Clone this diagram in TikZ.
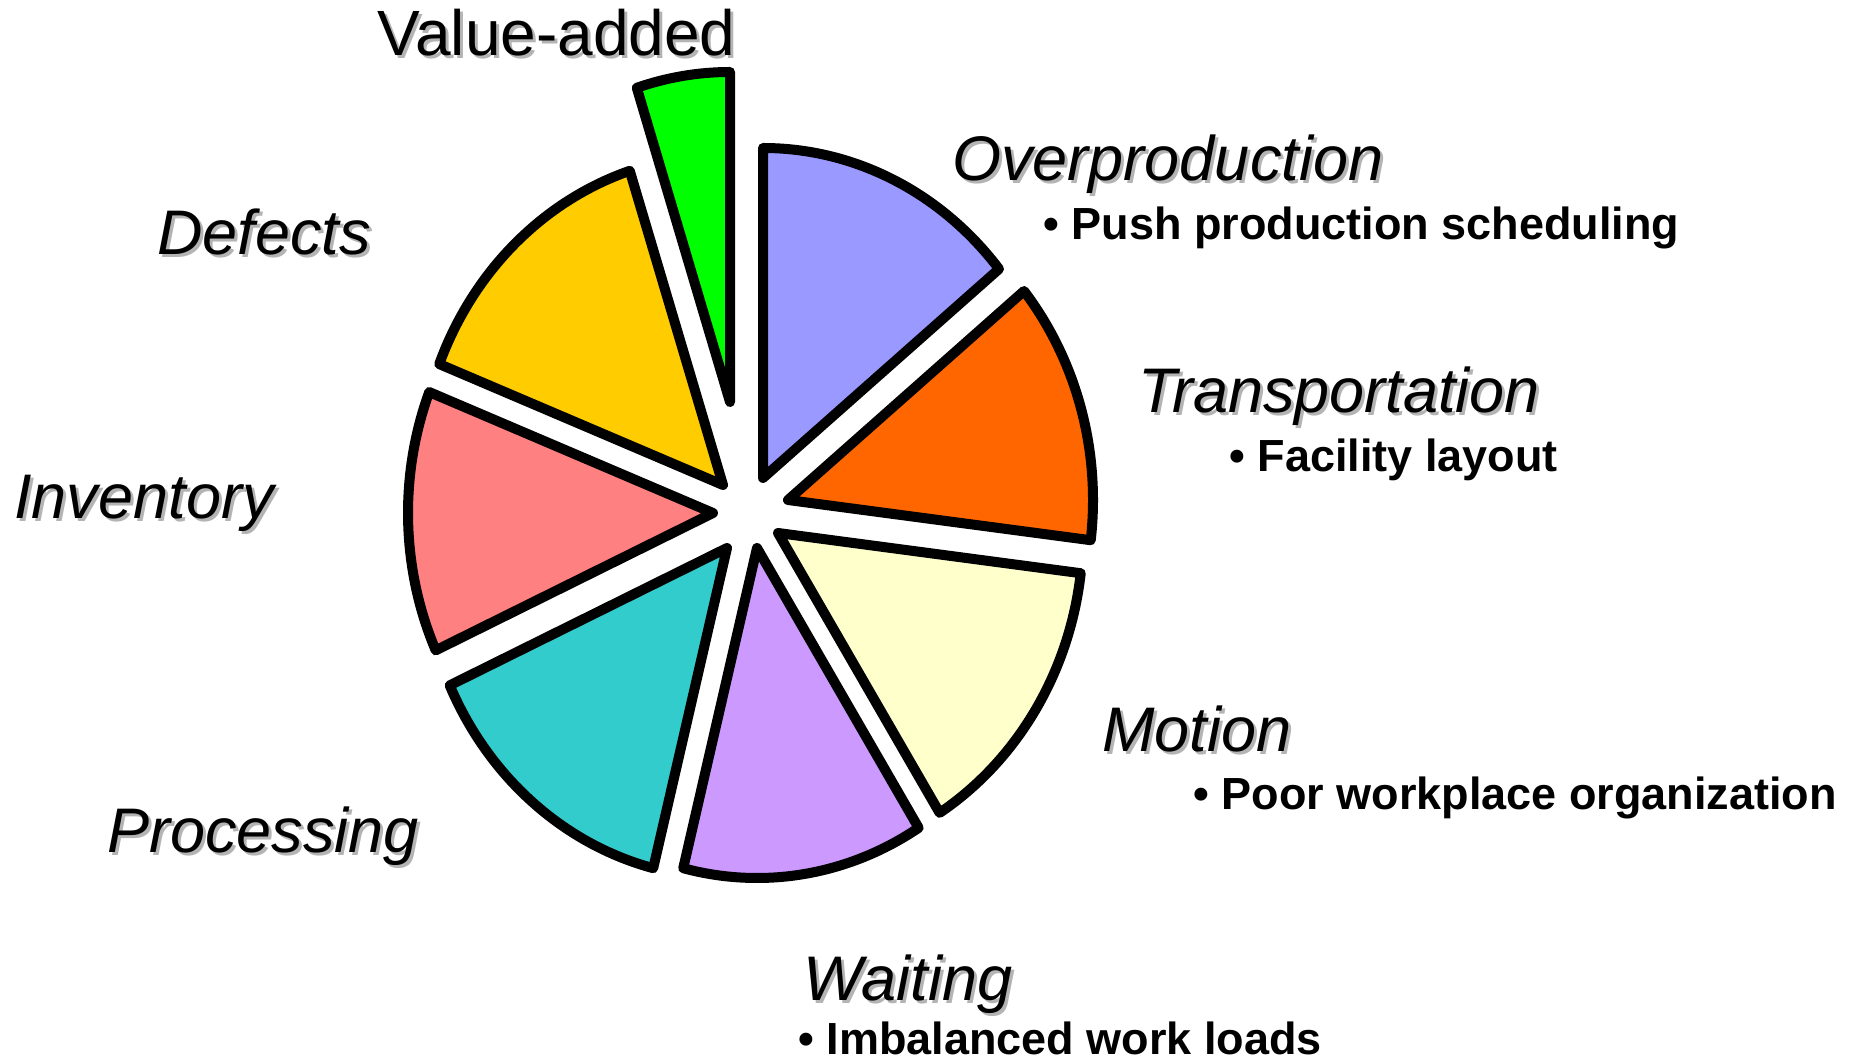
\documentclass[tikz,border=0pt]{standalone}
\usepackage{fontspec}
\setmainfont{Liberation Sans}
\usepackage{tikz}
\definecolor{valgreen}{HTML}{00FF00}
\definecolor{overblue}{HTML}{9999FF}
\definecolor{transorange}{HTML}{FF6600}
\definecolor{motionyellow}{HTML}{FFFFCC}
\definecolor{waitviolet}{HTML}{CC99FF}
\definecolor{procteal}{HTML}{33CCCC}
\definecolor{invpink}{HTML}{FF8080}
\definecolor{defgold}{HTML}{FFCC00}
\definecolor{shadowgray}{RGB}{180,180,180}
\newcommand{\shadowed}[1]{\makebox[0pt][l]{\hspace*{1.5pt}\raisebox{-1.5pt}{\color{shadowgray}#1}}#1}
\tikzstyle{slice} = [draw=black, line width=5pt, line join=round]
\tikzstyle{waste} = [inner sep=0pt, anchor=base west, font=\fontsize{31.5}{36}\selectfont\itshape]
\tikzstyle{valuelabel} = [waste, font=\fontsize{32}{36}\selectfont\upshape]
\tikzstyle{cause} = [inner sep=0pt, anchor=base west, font=\fontsize{22.5}{27}\selectfont\bfseries]

\begin{document}
\begin{tikzpicture}[x=0.5pt, y=0.5pt]
	\useasboundingbox (0,0) rectangle (1862,1060);
	\foreach \ax/\ay/\a/\b/\col in {730/658/90/107.8/valgreen, 763/582/39.3/90/overblue,
		788/560/-7/39.3/transorange, 778/527/-58/-7/motionyellow, 757/512/-104/-58/waitviolet,
		727/512/204.6/256/procteal, 713/547/158.5/204.6/invpink, 723/575/107.8/158.5/defgold}
		\filldraw [slice, fill=\col] (\ax,\ay) -- ++(\a:305 and 330)
			arc [start angle=\a, end angle=\b, x radius=305, y radius=330] -- cycle;
	
	\node [valuelabel] (valueadded) at (377,1004) {\shadowed{Value-added}};
	\node [waste] (overprod) at (952,879) {\shadowed{Overproduction}};
	\node [cause] (push) at (1043,820) {• Push production scheduling};
	\node [waste] (transport) at (1138,647) {\shadowed{Transportation}};
	\node [cause] (facility) at (1229,588) {• Facility layout};
	\node [waste] (motion) at (1102,308) {\shadowed{Motion}};
	\node [cause] (poor) at (1193,250) {• Poor workplace organization};
	\node [waste] (waiting) at (803,60) {\shadowed{Waiting}};
	\node [cause] (imbalance) at (798,6) {• Imbalanced work loads};
	\node [waste] (defects) at (157,805) {\shadowed{Defects}};
	\node [waste] (inventory) at (14,541) {\shadowed{Inventory}};
	\node [waste] (processing) at (107,207) {\shadowed{Processing}};
\end{tikzpicture}
\end{document}
